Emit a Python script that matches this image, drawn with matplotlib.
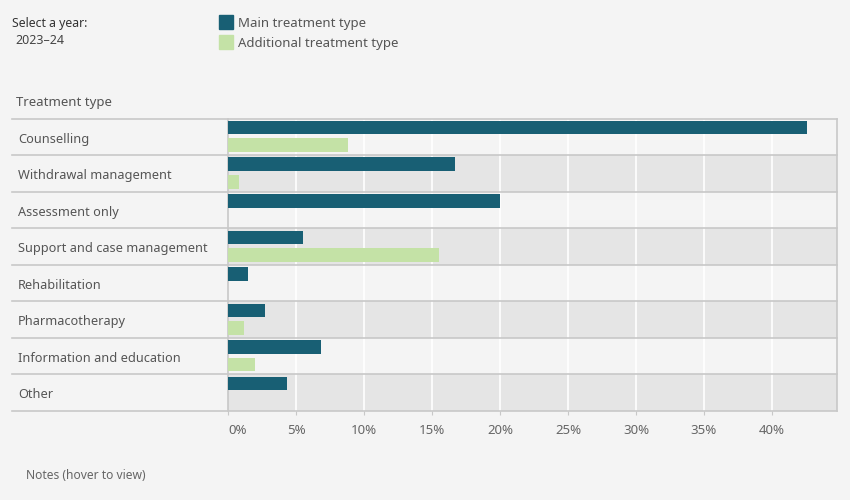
import numpy as np
import matplotlib.pyplot as plt
from matplotlib.patches import Rectangle
from matplotlib.transforms import blended_transform_factory

# data (per cent of treatment episodes, 2023-24)
categories = ["Counselling", "Withdrawal management", "Assessment only",
              "Support and case management", "Rehabilitation", "Pharmacotherapy",
              "Information and education", "Other"]
main_type = [42.6, 16.7, 20.0, 5.5, 1.45, 2.7, 6.8, 4.3]
additional_type = [8.8, 0.8, 0.0, 15.5, 0.0, 1.15, 1.95, 0.0]
xticks = [0, 5, 10, 15, 20, 25, 30, 35, 40]

main_col = "#185f74"
add_col = "#c4e2a6"
bg = "#f4f4f4"
shade = "#e5e5e5"
line_col = "#c8c8c8"

plt.rcParams['font.family'] = ['Noto Sans', 'DejaVu Sans']

W, H = 850, 500
fig = plt.figure(figsize=(8.5, 5), dpi=100, facecolor=bg)

def px(x, y):
    return x / W, 1 - y / H

# plot area
left, right, top, bottom = 228.5, 837, 118.5, 411
ax = fig.add_axes([left / W, 1 - bottom / H, (right - left) / W, (bottom - top) / H])
ax.set_facecolor(bg)

n = len(categories)
ax.set_ylim(n, 0)
ax.set_xlim(0, 44.8)

# alternate row shading
for i in range(n):
    if i % 2 == 1:
        ax.axhspan(i, i + 1, color=shade, lw=0, zorder=0)

# white gridlines
for t in xticks[1:]:
    ax.axvline(t, color="white", lw=1.2, zorder=1)

rows = np.arange(n)
ax.barh(rows + 0.25, main_type, height=0.37, color=main_col, zorder=3)
ax.barh(rows + 0.73, additional_type, height=0.37, color=add_col, zorder=3)

# row separator lines extending into the label column
trans = blended_transform_factory(ax.transAxes, ax.transData)
x0 = -(left - 12) / (right - left)
for i in range(n + 1):
    ax.plot([x0, 1], [i, i], color=line_col, lw=1.2, transform=trans,
            clip_on=False, zorder=4)

for s in ["top", "bottom"]:
    ax.spines[s].set_visible(False)
for s in ["left", "right"]:
    ax.spines[s].set_color(line_col)
    ax.spines[s].set_linewidth(1.2)

ax.set_yticks([])
ax.set_xticks(xticks)
ax.set_xticklabels([f"{t}%" for t in xticks])
ax.tick_params(axis="x", length=3, color=line_col, labelcolor="#666666",
               labelsize=9.5, pad=6)
ax.get_xticklabels()[0].set_horizontalalignment("left")

# category labels
for i, c in enumerate(categories):
    ax.text(x0 + 6 / (right - left), i + 0.52, c, transform=trans, ha="left",
            va="center_baseline", fontsize=9.2, color="#555555")

# header and legend
fig.text(*px(12, 22), "Select a year:", fontsize=8.8, fontweight="bold",
         color="#333333", va="center_baseline")
fig.text(*px(15, 39), "2023\u201324", fontsize=9, color="#444444",
         va="center_baseline")

for y, col, lab in [(22, main_col, "Main treatment type"),
                    (42, add_col, "Additional treatment type")]:
    fig.patches.append(Rectangle(px(219, y + 7), 14 / W, 14 / H, color=col,
                                 transform=fig.transFigure))
    fig.text(*px(238, y), lab, fontsize=9.5, color="#555555",
             va="center_baseline")

fig.text(*px(16, 101), "Treatment type", fontsize=9.5, color="#555555",
         va="center_baseline")
fig.text(*px(26, 474), "Notes (hover to view)", fontsize=8.7, color="#666666",
         va="center_baseline")

fig.savefig("out.png", dpi=100, facecolor=bg)
